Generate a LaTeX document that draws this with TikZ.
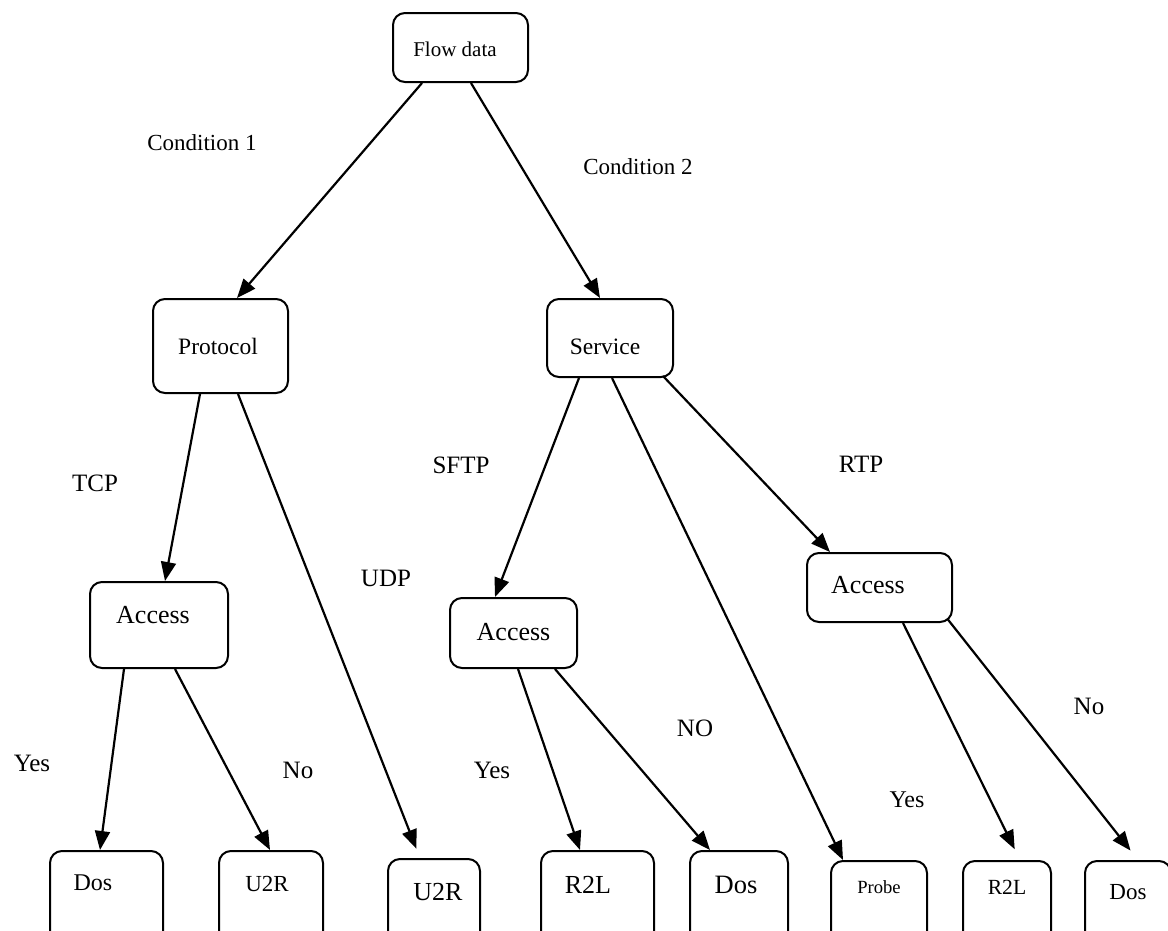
\documentclass[tikz,border=0pt]{standalone}
\usepackage{fontspec}
\setmainfont{Liberation Serif}
\usetikzlibrary{arrows.meta}
\newcommand{\setfs}[1]{\fontsize{#1}{#1}\selectfont}

\begin{document}
\begin{tikzpicture}[x=1pt, y=-1pt,
    box/.style={draw, rounded corners=12pt, line width=2pt, inner sep=0pt, anchor=north},
    leaf/.style={box, text depth=60pt},
    lbl/.style={inner sep=0pt, font=\setfs{25}},
    arr/.style={-{Triangle[length=19pt,width=15pt]}, line width=2.2pt}]
    \clip (0,0) rectangle (1168,930);

    % tree nodes
    \node [box, minimum width=135pt, text height=43pt, text depth=26pt, font=\setfs{21}] (flow) at (460.5,12) {Flow data\hspace*{11pt}};
    \node [box, minimum width=135pt, text height=55pt, text depth=39pt, font=\setfs{23.5}] (proto) at (220.5,298) {Protocol\hspace*{5pt}};
    \node [box, minimum width=126pt, text height=55pt, text depth=23pt, font=\setfs{23.5}] (serv) at (610,298) {Service\hspace*{10pt}};
    \node [box, minimum width=138pt, text height=41pt, text depth=45pt, font=\setfs{26}] (acc1) at (159,581) {Access\hspace*{12pt}};
    \node [box, minimum width=127pt, text height=42pt, text depth=28pt, font=\setfs{26}] (acc2) at (513.5,597) {Access};
    \node [box, minimum width=145pt, text height=40pt, text depth=29pt, font=\setfs{26}] (acc3) at (879.5,552) {Access\hspace*{23pt}};

    % leaves
    \node [leaf, minimum width=113pt, text height=39pt, font=\setfs{24}] (dos1) at (106.5,850) {Dos\hspace*{27pt}};
    \node [leaf, minimum width=104pt, text height=40pt, font=\setfs{23}] (u2r1) at (271,850) {U2R\hspace*{8pt}};
    \node [leaf, minimum width=92pt, text height=41pt, font=\setfs{26}] (u2r2) at (434,858) {\hspace*{8pt}U2R};
    \node [leaf, minimum width=113pt, text height=42pt, font=\setfs{26}] (r2l1) at (597.5,850) {R2L\hspace*{19pt}};
    \node [leaf, minimum width=98pt, text height=42pt, font=\setfs{26.5}] (dos2) at (739,850) {Dos\hspace*{6pt}};
    \node [leaf, minimum width=96pt, text height=32pt, font=\setfs{18.6}] (probe) at (879,860) {Probe};
    \node [leaf, minimum width=88pt, text height=33pt, font=\setfs{21.6}] (r2l2) at (1007,860) {R2L};
    \node [leaf, minimum width=86pt, text height=38pt, font=\setfs{23}] (dos3) at (1128,860) {Dos};

    % branch labels
    \node [lbl, font=\setfs{23}] (cond1) at (202,143) {Condition 1};
    \node [lbl, font=\setfs{23}] (cond2) at (638,167) {Condition 2};
    \node [lbl] (tcp) at (95,483) {TCP};
    \node [lbl] (udp) at (386,578) {UDP};
    \node [lbl] (sftp) at (461,465) {SFTP};
    \node [lbl] (rtp) at (861,464) {RTP};
    \node [lbl] (yes1) at (32,763) {Yes};
    \node [lbl] (no1) at (298,770) {No};
    \node [lbl] (yes2) at (492,770) {Yes};
    \node [lbl] (no2) at (695,728) {NO};
    \node [lbl, font=\setfs{24}] (yes3) at (907,800) {Yes};
    \node [lbl] (no3) at (1089,706) {No};

    % connectors
    \draw [arr] ([xshift=-38.5pt]flow.south) -- ([xshift=16.5pt]proto.north);
    \draw [arr] ([xshift=10.5pt]flow.south) -- ([xshift=-10pt]serv.north);
    \draw [arr] ([xshift=-20.5pt]proto.south) -- ([xshift=6pt]acc1.north);
    \draw [arr, shorten >=10pt] ([xshift=17.5pt]proto.south) -- ([xshift=-14pt]u2r2.north);
    \draw [arr] ([xshift=-31pt]serv.south) -- ([xshift=-18.5pt]acc2.north);
    \draw [arr] ([xshift=2pt]serv.south) -- ([xshift=-36pt]probe.north);
    \draw [arr] ([xshift=53pt, yshift=2pt]serv.south) -- ([xshift=-49.5pt]acc3.north);
    \draw [arr] ([xshift=-35pt]acc1.south) -- ([xshift=-6.5pt]dos1.north);
    \draw [arr] ([xshift=16pt]acc1.south) -- ([xshift=-1pt]u2r1.north);
    \draw [arr] ([xshift=4.5pt]acc2.south) -- ([xshift=-17.5pt]r2l1.north);
    \draw [arr] ([xshift=41.5pt]acc2.south) -- ([xshift=-29pt]dos2.north);
    \draw [arr, shorten >=12pt] ([xshift=23.5pt]acc3.south) -- ([xshift=13pt]r2l2.north);
    \draw [arr, shorten >=12pt] ([xshift=68pt, yshift=4pt]acc3.south) -- ([xshift=10pt]dos3.north);
\end{tikzpicture}
\end{document}
